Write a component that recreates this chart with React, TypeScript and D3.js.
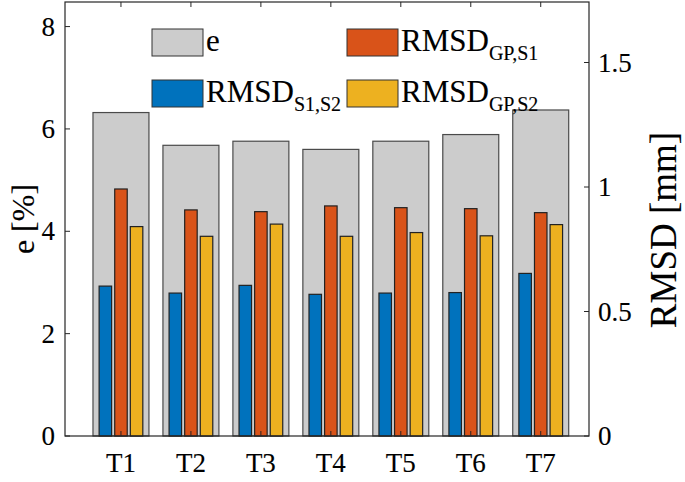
import React from "react";
import * as d3 from "d3";

const categories = ["T1", "T2", "T3", "T4", "T5", "T6", "T7"];
const eValues = [6.32, 5.68, 5.76, 5.6, 5.76, 5.89, 6.37];
const rmsdS1S2 = [0.602, 0.574, 0.605, 0.569, 0.574, 0.576, 0.653];
const rmsdGPS1 = [0.992, 0.908, 0.901, 0.924, 0.917, 0.913, 0.897];
const rmsdGPS2 = [0.841, 0.802, 0.851, 0.802, 0.817, 0.804, 0.849];
const leftTicks = [0, 2, 4, 6, 8];
const rightTicks = [0, 0.5, 1, 1.5];
const rightTickLabels = ["0", "0.5", "1", "1.5"];

const W = 685;
const H = 482;
const L = 65, R = 589, T = 2, B = 436;
const FONT = "Liberation Serif";
const AX = "#262626";
const ts = (size: number) => ({ fontFamily: FONT, fontSize: size + "px", stroke: "#000", strokeWidth: 0.12 });

export default function App() {
  const x = d3.scaleLinear().domain([0.2, 7.69]).range([L, R]);
  const yL = d3.scaleLinear().domain([0, 8.48]).range([B, T]);
  const yR = d3.scaleLinear().domain([0, 1.743]).range([B, T]);
  const unit = x(1) - x(0);
  const grayW = 0.8 * unit;
  const cW = 12.5;
  const off = 15.6;
  const series = [
    { vals: rmsdS1S2, color: "#0072BD", dx: -off },
    { vals: rmsdGPS1, color: "#D95319", dx: 0 },
    { vals: rmsdGPS2, color: "#EDB120", dx: off },
  ];
  const tickLen = 5;
  const legend = [
    { x: 152, y: 29, color: "#CCCCCC", main: "e", sub: "" },
    { x: 347, y: 29, color: "#D95319", main: "RMSD", sub: "GP,S1" },
    { x: 152, y: 80, color: "#0072BD", main: "RMSD", sub: "S1,S2" },
    { x: 347, y: 80, color: "#EDB120", main: "RMSD", sub: "GP,S2" },
  ];
  return (
    <svg width={W} height={H} style={{ position: "absolute", left: 0, top: 0, background: "#fff" }}>
      {eValues.map((v, i) => (
        <rect key={"g" + i} x={x(i + 1) - grayW / 2} y={yL(v)} width={grayW} height={B - yL(v)}
          fill="#CCCCCC" stroke="#4a4a4a" strokeWidth={1.2} />
      ))}
      {series.map((s, si) =>
        s.vals.map((v, i) => (
          <rect key={si + "-" + i} x={x(i + 1) + s.dx - cW / 2} y={yR(v)} width={cW} height={B - yR(v)}
            fill={s.color} stroke="#222" strokeWidth={1.2} />
        ))
      )}
      <rect x={L} y={T} width={R - L} height={B - T} fill="none" stroke={AX} strokeWidth={1.2} />
      {categories.map((c, i) => (
        <g key={c}>
          <line x1={x(i + 1)} x2={x(i + 1)} y1={B} y2={B - tickLen} stroke={AX} strokeWidth={1} />
          <line x1={x(i + 1)} x2={x(i + 1)} y1={T} y2={T + tickLen} stroke={AX} strokeWidth={1} />
          <text x={x(i + 1)} y={472} textAnchor="middle" style={ts(27)} fill="#000">{c}</text>
        </g>
      ))}
      {leftTicks.map((t) => (
        <g key={"l" + t}>
          <line x1={L} x2={L + tickLen} y1={yL(t)} y2={yL(t)} stroke={AX} strokeWidth={1} />
          <text x={55} y={yL(t) + 9} textAnchor="end" style={ts(27)} fill="#000">{t}</text>
        </g>
      ))}
      {rightTicks.map((t, i) => (
        <g key={"r" + t}>
          <line x1={R} x2={R - tickLen} y1={yR(t)} y2={yR(t)} stroke={AX} strokeWidth={1} />
          <text x={598} y={yR(t) + 9} textAnchor="start" style={ts(27)} fill="#000">{rightTickLabels[i]}</text>
        </g>
      ))}
      <text transform={`translate(34,${(T + B) / 2}) rotate(-90)`} textAnchor="middle" style={ts(32)} fill="#000">e [%]</text>
      <text transform={`translate(676,230) rotate(-90)`} textAnchor="middle" style={ts(37)} fill="#000">RMSD [mm]</text>
      {legend.map((l, i) => (
        <g key={"lg" + i}>
          <rect x={l.x} y={l.y} width={51} height={27} fill={l.color} stroke="#333" strokeWidth={1} />
          <text x={l.x + 54} y={l.y + 22} style={ts(31)} fill="#000">
            {l.main}
            {l.sub && <tspan style={ts(20)} dy={9}>{l.sub}</tspan>}
          </text>
        </g>
      ))}
    </svg>
  );
}
